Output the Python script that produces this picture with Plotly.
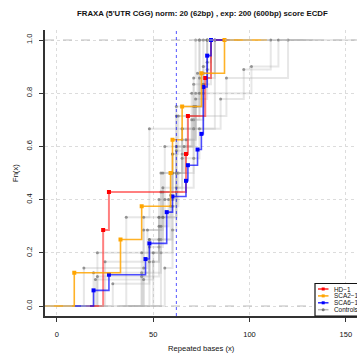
import numpy as np
import plotly.graph_objects as go

# Repeat lengths (bases) per sample
hd1 = [24, 24, 27, 67, 68, 77, 80]
sca2 = [9, 33, 44, 59, 60, 65, 75, 87]
sca6 = [19, 27, 46, 48, 57, 57, 60, 67, 68, 73, 75, 76, 76, 76, 78, 78, 80]
controls = [
    [36, 48, 82],
    [48, 54, 62, 74],
    [21, 53, 56, 72, 76],
    [54, 60, 62, 70, 74],
    [25, 45, 55, 65, 71, 80],
    [50, 53, 62, 71, 76, 78],
    [14, 45, 54, 60, 62, 88, 120],
    [56, 60, 62, 65, 68, 74, 82],
    [45, 47, 55, 60, 63, 71, 72],
    [19, 48, 60, 63, 65, 72, 76, 82],
    [44, 54, 59, 62, 67, 72, 73, 78],
    [21, 48, 53, 55, 71, 74, 85, 97, 111],
    [44, 53, 55, 62, 65, 71, 72, 78, 80],
    [20, 44, 53, 56, 60, 62, 71, 76, 101, 115],
    [45, 50, 54, 58, 62, 66, 70, 74, 76, 78],
    [29, 48, 53, 55, 59, 60, 62, 65, 71, 76, 78, 80],
]
norm_bp = 62

x_ticks = [0, 50, 100, 150]
y_ticks = [0, 0.2, 0.4, 0.6, 0.8, 1.0]
y_ticktext = ["0.0", "0.2", "0.4", "0.6", "0.8", "1.0"]

FONT = "Liberation Sans, Arial, Helvetica, sans-serif"
TXT = "#111111"

fig = go.Figure()


def ecdf(vals):
    v = np.sort(np.asarray(vals, dtype=float))
    u, c = np.unique(v, return_counts=True)
    f = np.cumsum(c) / len(v)
    return u, f


def step_extent(u):
    # horizontal reach of a step function beyond its knots (stepfun plotting rule)
    if len(u) > 1:
        dr = max(0.08 * (u[-1] - u[0]), float(np.median(np.diff(u))))
    else:
        dr = abs(u[0]) / 16
    return u[0] - 2 * dr, u[-1] + 2 * dr


def add_ecdf(vals, line_col, pt_col, symbol, pt_size, width):
    u, f = ecdf(vals)
    lo, hi = step_extent(u)
    xs = [lo] + list(u) + [hi]
    ys = [0.0] + list(f) + [1.0]
    fig.add_trace(go.Scatter(x=xs, y=ys, mode="lines", line_shape="hv",
                             line=dict(color=line_col, width=width),
                             hoverinfo="skip", showlegend=False))
    fig.add_trace(go.Scatter(x=u, y=f, mode="markers",
                             marker=dict(color=pt_col, size=pt_size, symbol=symbol,
                                         line=dict(width=0)),
                             showlegend=False))


for c in controls:
    add_ecdf(c, "rgba(170,170,170,0.28)", "rgba(110,110,110,0.7)", "circle", 3, 2)

add_ecdf(hd1, "rgba(255,0,0,0.5)", "rgb(255,0,0)", "square", 4, 2)
add_ecdf(sca6, "rgba(0,0,255,0.7)", "rgb(0,0,255)", "square", 4, 1.6)
add_ecdf(sca2, "rgba(255,165,0,0.85)", "rgb(255,165,0)", "square", 4, 1.6)

# reference lines at F=0 and F=1
for h in (0, 1):
    fig.add_hline(y=h, line=dict(color="#bdbdbd", width=1.1, dash="dash"))

# normal repeat length marker
fig.add_vline(x=norm_bp, line=dict(color="rgba(0,0,255,0.85)", width=0.8, dash="dot"))

# plot-area pixel helpers for the legend box
L, R, T, B = 45, 357, 30, 316
PW, PH = R - L, B - T


def px(xp):
    return (xp - L) / PW


def py(yp):
    return (B - yp) / PH


fig.add_shape(type="rect", xref="paper", yref="paper",
              x0=px(315), x1=px(362), y0=py(316), y1=py(283.5),
              line=dict(color="#111", width=1.2), fillcolor="white", layer="above")
legend_items = [("HD\u22121", "rgba(255,0,0,0.85)", "red", "rect"),
                ("SCA2\u22121", "rgba(255,165,0,0.95)", "orange", "rect"),
                ("SCA6\u22121", "rgba(0,0,255,0.85)", "blue", "rect"),
                ("Controls", "rgba(170,170,170,0.8)", "#777", "circle")]
for i, (lab, lc, mc, sym) in enumerate(legend_items):
    yy = 289 + i * 6.9
    fig.add_shape(type="line", xref="paper", yref="paper",
                  x0=px(318), x1=px(328.5), y0=py(yy), y1=py(yy),
                  line=dict(color=lc, width=1.5), layer="above")
    fig.add_shape(type=sym, xref="paper", yref="paper",
                  xsizemode="pixel", ysizemode="pixel",
                  xanchor=px(323.2), yanchor=py(yy),
                  x0=-1.5, x1=1.5, y0=-1.5, y1=1.5,
                  fillcolor=mc, line=dict(width=0), layer="above")
    fig.add_annotation(text=lab, xref="paper", yref="paper", x=px(331.5), y=py(yy),
                       xanchor="left", yanchor="middle", showarrow=False,
                       font=dict(size=6.4, family=FONT, color=TXT))

fig.add_annotation(text="<b>FRAXA (5'UTR CGG) norm: 20 (62bp) , exp: 200 (600bp) score ECDF</b>",
                   xref="paper", yref="paper", x=px(202), y=py(13), xanchor="center",
                   yanchor="middle", showarrow=False,
                   font=dict(size=7.8, family=FONT, color=TXT))
fig.add_annotation(text="Repeated bases (x)", xref="paper", yref="paper", x=px(201),
                   y=py(348), xanchor="center", yanchor="middle", showarrow=False,
                   font=dict(size=7.6, family=FONT, color=TXT))
fig.add_annotation(text="Fn(x)", xref="paper", yref="paper", x=px(15), y=py(173),
                   textangle=-90, xanchor="center", yanchor="middle", showarrow=False,
                   font=dict(size=7.6, family=FONT, color=TXT))

fig.update_layout(
    width=357, height=356,
    margin=dict(l=L, r=357 - R, t=T, b=356 - B, pad=0),
    paper_bgcolor="white", plot_bgcolor="white",
    showlegend=False,
    font=dict(family=FONT, size=7.5, color=TXT),
)
fig.update_xaxes(range=[-6.2, 155.8], tickvals=x_ticks, showgrid=True,
                 gridcolor="#dcdcdc", griddash="dot", gridwidth=1, zeroline=False,
                 showline=True, linecolor="#333", linewidth=1.5,
                 ticks="outside", ticklen=4, tickcolor="#333", tickwidth=1,
                 ticklabelstandoff=6, tickfont=dict(size=7.5, color=TXT))
fig.update_yaxes(range=[-0.0376, 1.0376], tickvals=y_ticks, ticktext=y_ticktext,
                 showgrid=True, gridcolor="#dcdcdc", griddash="dot", gridwidth=1,
                 zeroline=False, showline=True, linecolor="#333", linewidth=1.5,
                 ticks="outside", ticklen=4, tickcolor="#333", tickwidth=1,
                 tickangle=-90, ticklabelstandoff=4, tickfont=dict(size=7.5, color=TXT))

fig.write_html("out.html")
